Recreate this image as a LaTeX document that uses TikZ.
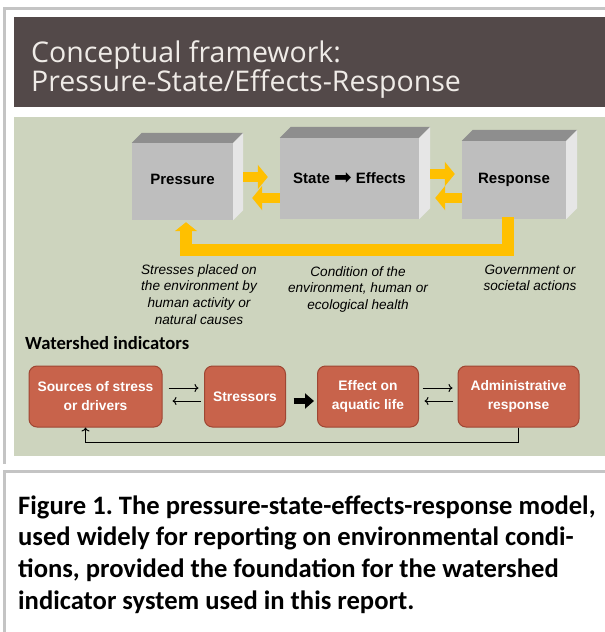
\documentclass[tikz,border=0pt]{standalone}
\usepackage{fontspec}
\setmainfont{Liberation Sans}
\newfontfamily\titlefont{Open Sans}
\newfontfamily\calfont{Carlito}
\newfontfamily\dejavu{DejaVu Sans}
\usetikzlibrary{arrows.meta}
\definecolor{framegray}{HTML}{C4C4C4}
\definecolor{titlebg}{HTML}{534949}
\definecolor{titlefg}{HTML}{EFEBE7}
\definecolor{greenbg}{HTML}{CDD4BE}
\definecolor{boxfront}{HTML}{BEBEBE}
\definecolor{boxtop}{HTML}{8E8E8E}
\definecolor{boxside}{HTML}{E6E6E6}
\definecolor{ygold}{HTML}{FFC000}
\definecolor{redfill}{HTML}{C8634B}
\definecolor{redline}{HTML}{9E4633}
\frenchspacing
\begin{document}
\begin{tikzpicture}[x=1pt,y=-1pt,
  frontface/.style={fill=boxfront, inner sep=0pt, font=\bfseries\fontsize{15}{18}\selectfont},
  yarrow/.style={draw=ygold, line width=10pt, -{Triangle[length=10pt 0 0,width=24pt 0 0]}},
  ybig/.style={draw=ygold, line width=12pt, miter limit=10, line join=miter, -{Triangle[length=9pt 0 0,width=22pt 0 0]}},
  desc/.style={inner sep=0pt, anchor=north, align=center, font=\itshape\fontsize{13.6}{16.7}\selectfont},
  redbox/.style={rounded corners=8pt, fill=redfill, draw=redline, line width=1pt, text=white, inner sep=0pt,
    minimum height=61pt, align=center, font=\bfseries\fontsize{13.8}{19}\selectfont},
  thinarrow/.style={draw=black, line width=1pt, -{To[length=4pt 0 0,width=8pt 0 0]}},
  blockarrow/.style={draw=black, line width=6pt, -{Triangle[length=9pt 0 0,width=15pt 0 0]}},
  titletext/.style={inner sep=0pt, anchor=base west, text=titlefg, font=\titlefont\fontsize{28.5}{31}\selectfont},
  captext/.style={inner sep=0pt, anchor=base west, font=\calfont\bfseries\fontsize{26.6}{30}\selectfont}
]
\useasboundingbox (0,0) rectangle (605,632);
\fill[white] (0,0) rectangle (605,632);
% frames
\fill[framegray] (3.3,7) rectangle (605,10);
\fill[framegray] (3.3,7) rectangle (6.3,464);
\fill[framegray] (3.3,470) rectangle (605,473);
\fill[framegray] (3.3,470) rectangle (6.3,632);
% title panel
\fill[titlebg] (14,17) rectangle (605,107);
\node[titletext] (t1) at (31,62) {Conceptual framework:};
\node[titletext] (t2) at (31,91) {Pressure-State/Effects-Response};
% green panel
\fill[greenbg] (14,117) rectangle (605,456);
% 3D boxes
\node[frontface, minimum width=101pt, minimum height=77pt] (press) at (182.5,181.5) {\raisebox{4.5pt}{Pressure}};
\node[frontface, minimum width=139pt, minimum height=81pt] (state) at (349.5,178.5) {\raisebox{0.5pt}{State {\dejavu\mdseries\fontsize{21}{21}\selectfont\raisebox{-1pt}{➡}} Effects}};
\node[frontface, minimum width=104pt, minimum height=78pt] (resp) at (514,180) {\raisebox{2pt}{Response}};
\foreach \n/\d in {press/10,state/11,resp/11}{
  \fill[boxtop] (\n.north west) -- ++(\d,-\d) -- ([shift={(\d,-\d)}]\n.north east) -- (\n.north east) -- cycle;
  \fill[boxside] (\n.north east) -- ++(\d,-\d) -- ([shift={(\d,-\d)}]\n.south east) -- (\n.south east) -- cycle;
}
% yellow arrows
\draw[yarrow] ([shift={(10,-4.5)}]press.east) -- ([shift={(-12,-1.5)}]state.west);
\draw[yarrow] ([shift={(0,19.5)}]state.west) -- ([shift={(19,16.5)}]press.east);
\draw[yarrow] ([shift={(11,-4.5)}]state.east) -- ([shift={(-7,-6)}]resp.west);
\draw[yarrow] ([shift={(0,18)}]resp.west) -- ([shift={(16,19.5)}]state.east);
\draw[ybig] ([shift={(-6.5,-2)}]resp.south) -- ++(0,33) -| ([shift={(3.5,2)}]press.south);
% descriptions
\node[desc] (d1) at (199,264) {Stresses placed on\\the environment by\\human activity or\\natural causes};
\node[desc] (d2) at (358,266) {Condition of the\\environment, human or\\ecological health};
\node[desc] (d3) at (530,264.5) {Government or\\societal actions};
% watershed indicators
\node[inner sep=0pt, anchor=base west, font=\calfont\bfseries\fontsize{18.6}{22}\selectfont] (wi) at (25,349) {Watershed indicators};
\node[redbox, minimum width=133pt] (b1) at (95.5,396.5) {Sources of stress\\or drivers};
\node[redbox, minimum width=81pt] (b2) at (245,396.5) {Stressors};
\node[redbox, minimum width=101pt] (b3) at (368,396.5) {Effect on\\aquatic life};
\node[redbox, minimum width=121pt] (b4) at (518.5,396.5) {Administrative\\response};
\draw[thinarrow] ([shift={(6,-8.5)}]b1.east) -- ([shift={(-5.5,-8.5)}]b2.west);
\draw[thinarrow] ([shift={(-3.5,4.5)}]b2.west) -- ([shift={(10,4.5)}]b1.east);
\draw[thinarrow] ([shift={(3.5,-8.5)}]b3.east) -- ([shift={(-5,-8.5)}]b4.west);
\draw[thinarrow] ([shift={(-5,4.5)}]b4.west) -- ([shift={(5.5,4.5)}]b3.east);
\draw[blockarrow] ([shift={(7.5,4.5)}]b2.east) -- ([shift={(-3,4.5)}]b3.west);
\draw[thinarrow] (b4.south) -- ++(0,15) -| ([xshift=-10pt]b1.south);
% caption
\node[captext] (c1) at (18,514) {Figure 1. The pressure-state-effects-response model,};
\node[captext] (c2) at (18,545.7) {used widely for reporting on environmental condi-};
\node[captext] (c3) at (18,577.4) {tions, provided the foundation for the watershed};
\node[captext] (c4) at (18,609.1) {indicator system used in this report.};
\end{tikzpicture}
\end{document}
